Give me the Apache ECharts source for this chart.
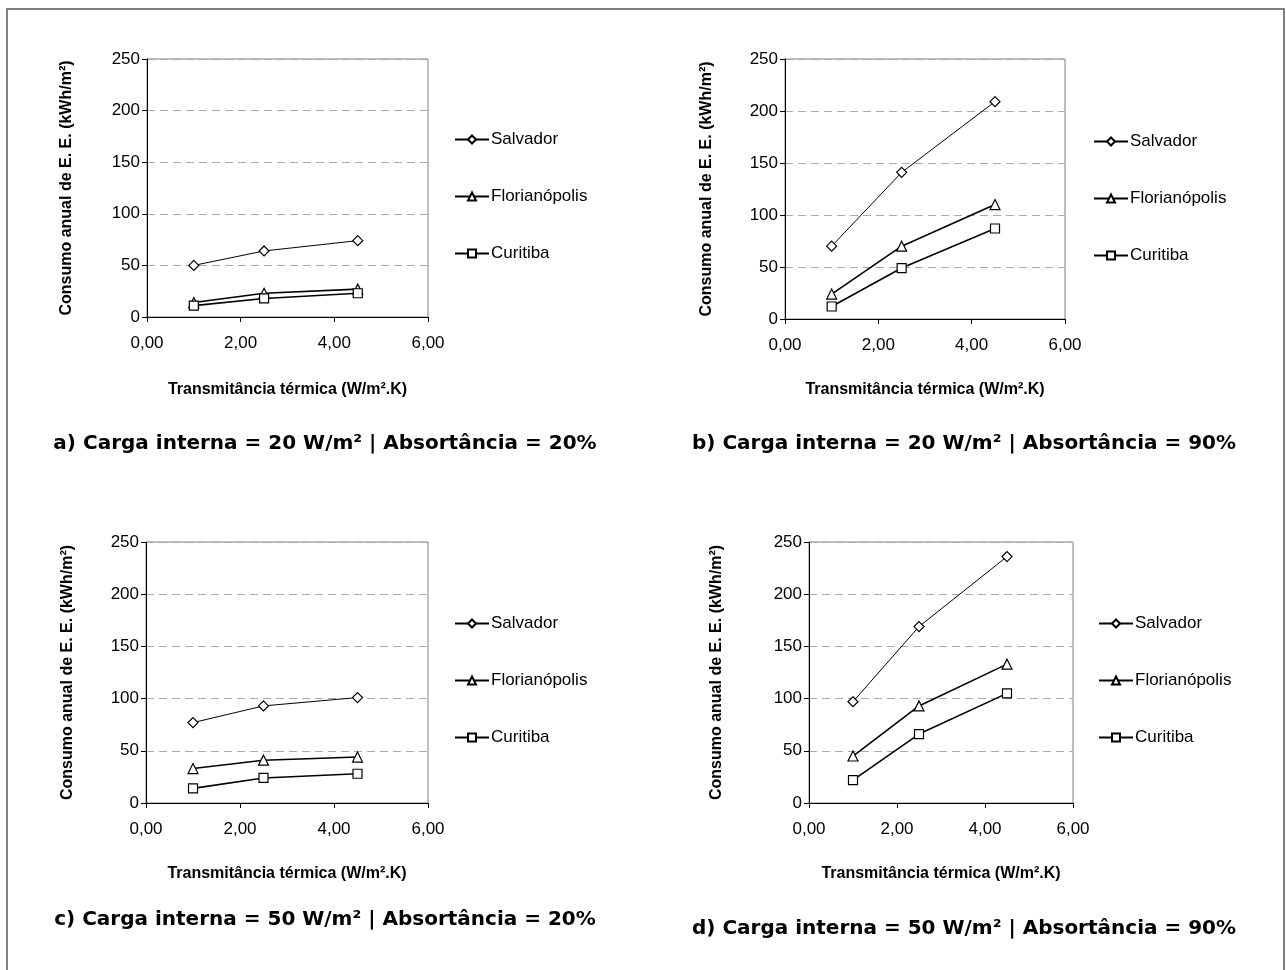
<!DOCTYPE html>
<html>
<head>
<meta charset="utf-8">
<script src="https://cdn.jsdelivr.net/npm/echarts@6/dist/echarts.min.js"></script>
<style>
html,body{margin:0;padding:0;background:#fff;}
#chart{width:1286px;height:970px;}
</style>
</head>
<body>
<div id="chart"></div>
<script>
// ---- data ----
const transmitancia = [1.0, 2.5, 4.5];
const cities = ['Salvador', 'Florianópolis', 'Curitiba'];
const panelTitles = [
  'a) Carga interna = 20 W/m² | Absortância = 20%',
  'b) Carga interna = 20 W/m² | Absortância = 90%',
  'c) Carga interna = 50 W/m² | Absortância = 20%',
  'd) Carga interna = 50 W/m² | Absortância = 90%'
];
const xTickValues = [0, 2, 4, 6];
const yTickValues = [0, 50, 100, 150, 200, 250];
// panel a
const aSalvador = [50, 64, 74];
const aFlorianopolis = [14, 23, 27];
const aCuritiba = [11, 18, 23];
// panel b
const bSalvador = [70, 141, 209];
const bFlorianopolis = [24, 70, 110];
const bCuritiba = [12, 49, 87];
// panel c
const cSalvador = [77, 93, 101];
const cFlorianopolis = [33, 41, 44];
const cCuritiba = [14, 24, 28];
// panel d
const dSalvador = [97, 169, 236];
const dFlorianopolis = [45, 93, 133];
const dCuritiba = [22, 66, 105];

const panelData = [
  [aSalvador, aFlorianopolis, aCuritiba],
  [bSalvador, bFlorianopolis, bCuritiba],
  [cSalvador, cFlorianopolis, cCuritiba],
  [dSalvador, dFlorianopolis, dCuritiba]
];

// ---- layout ----
const grids = [
  {left: 147, top: 59, width: 281, height: 258},
  {left: 785, top: 59, width: 280, height: 260},
  {left: 146, top: 542, width: 282, height: 261},
  {left: 809, top: 542, width: 264, height: 261}
];
const yNameGaps = [72, 70, 70, 84];
const xNameGaps = [65, 63, 63, 63];
const legendPos = [
  {left: 454, top: 131},
  {left: 1093, top: 133},
  {left: 454, top: 615},
  {left: 1098, top: 615}
];
const titlePos = [
  {x: 325, y: 442},
  {x: 964, y: 442},
  {x: 325, y: 918},
  {x: 964, y: 927}
];
const symbols = ['diamond', 'triangle', 'rect'];
const symbolSizes = [10, 10, 9];
const lineWidths = [1, 1.6, 1.6];
const FONT = 'Liberation Sans, Arial, sans-serif';

const option = {
  backgroundColor: '#fff',
  animation: false,
  graphic: [{
    type: 'polyline',
    shape: {points: [[7, 980], [7, 9], [1284, 9], [1284, 980]]},
    style: {stroke: '#808080', lineWidth: 2, fill: null}
  }],
  title: panelTitles.map((t, i) => ({
    text: t,
    left: titlePos[i].x,
    top: titlePos[i].y - 8,
    padding: 0,
    textAlign: 'center',
    textStyle: {fontFamily: 'DejaVu Sans', fontWeight: 'bold', fontSize: 20, color: '#000'}
  })),
  grid: grids.map(g => Object.assign({
    show: true, borderColor: '#808080', borderWidth: 1, backgroundColor: '#fff'
  }, g)),
  legend: legendPos.map((p, i) => ({
    orient: 'vertical',
    left: p.left,
    top: p.top,
    padding: 0,
    itemWidth: 34,
    itemHeight: 10,
    itemGap: 40,
    selectedMode: false,
    textStyle: {fontFamily: FONT, fontSize: 17, lineHeight: 14, color: '#000', padding: [0, 0, 0, -3]},
    data: cities
  })),
  xAxis: grids.map((g, i) => ({
    type: 'value',
    gridIndex: i,
    min: 0, max: 6, interval: 2,
    name: 'Transmitância térmica (W/m².K)',
    nameLocation: 'middle',
    nameGap: xNameGaps[i],
    nameTextStyle: {fontFamily: FONT, fontWeight: 'bold', fontSize: 16, color: '#000'},
    axisLine: {show: true, onZero: false, lineStyle: {color: '#000', width: 1}},
    axisTick: {show: true, inside: false, length: 5, lineStyle: {color: '#000'}},
    axisLabel: {
      fontFamily: FONT, fontSize: 17, color: '#000', margin: 18,
      formatter: v => xTickValues.includes(v) ? v.toFixed(2).replace('.', ',') : ''
    },
    splitLine: {show: false}
  })),
  yAxis: grids.map((g, i) => ({
    type: 'value',
    gridIndex: i,
    min: 0, max: 250, interval: 50,
    name: 'Consumo anual de E. E. (kWh/m²)',
    nameLocation: 'middle',
    nameRotate: 90,
    nameGap: yNameGaps[i],
    nameTextStyle: {fontFamily: FONT, fontWeight: 'bold', fontSize: 16, color: '#000'},
    axisLine: {show: true, onZero: false, lineStyle: {color: '#000', width: 1}},
    axisTick: {show: true, inside: false, length: 5, lineStyle: {color: '#000'}},
    axisLabel: {
      fontFamily: FONT, fontSize: 17, color: '#000', margin: 7,
      formatter: v => yTickValues.includes(v) ? String(v) : ''
    },
    splitLine: {show: true, lineStyle: {color: '#aaaaaa', type: [8, 5], width: 1}}
  })),
  series: []
};

panelData.forEach((arrs, pi) => {
  arrs.forEach((vals, ci) => {
    option.series.push({
      type: 'line',
      name: cities[ci],
      xAxisIndex: pi,
      yAxisIndex: pi,
      data: transmitancia.map((x, k) => [x, vals[k]]),
      symbol: symbols[ci],
      symbolSize: symbolSizes[ci],
      showAllSymbol: true,
      lineStyle: {color: '#000', width: lineWidths[ci]},
      itemStyle: {color: '#fff', borderColor: '#000', borderWidth: 1.2},
      emphasis: {disabled: true}
    });
  });
});

const chart = echarts.init(document.getElementById('chart'), null, {renderer: 'canvas'});
chart.setOption(option);
</script>
</body>
</html>
